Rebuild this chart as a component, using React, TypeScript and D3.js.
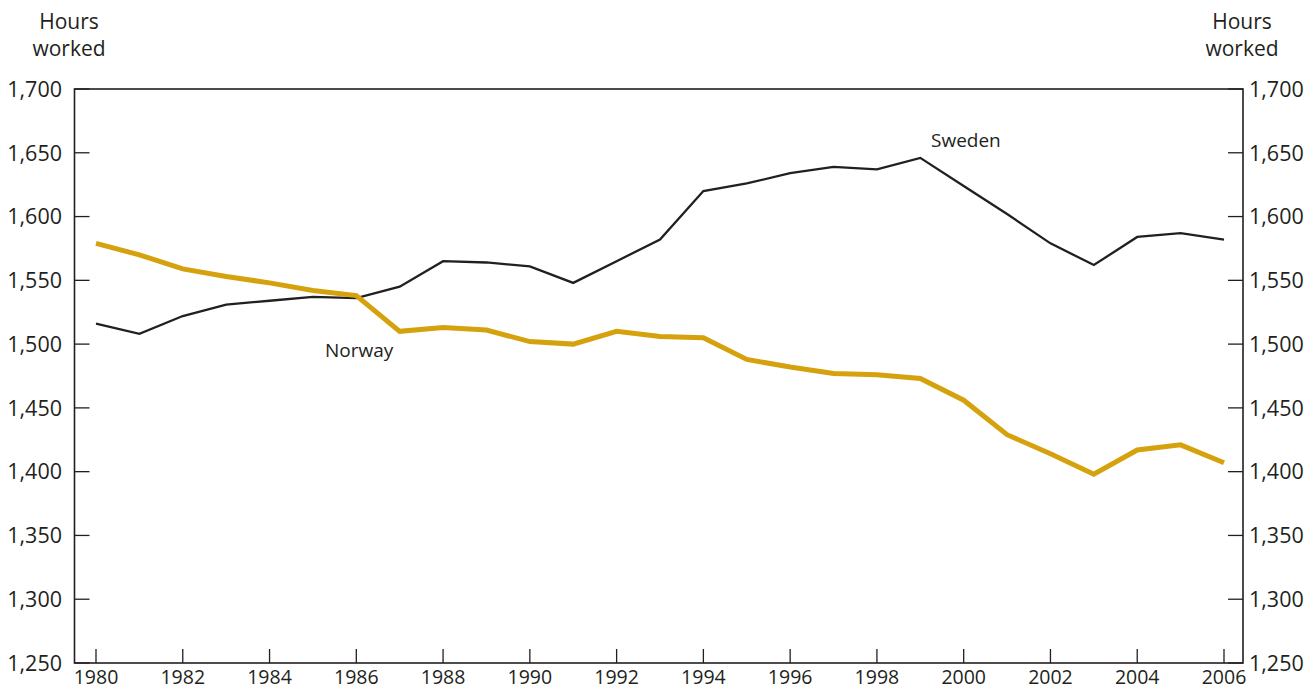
import React from "react";
import * as d3 from "d3";

const years = d3.range(1980, 2007);
const sweden = [1516, 1508, 1522, 1531, 1534, 1537, 1536, 1545, 1565, 1564, 1561, 1548, 1565, 1582, 1620, 1626, 1634, 1639, 1637, 1646, 1624, 1602, 1579, 1562, 1584, 1587, 1582];
const norway = [1579, 1570, 1559, 1553, 1548, 1542, 1538, 1510, 1513, 1511, 1502, 1500, 1510, 1506, 1505, 1488, 1482, 1477, 1476, 1473, 1456, 1429, 1414, 1398, 1417, 1421, 1407];
const yTicks = [1250, 1300, 1350, 1400, 1450, 1500, 1550, 1600, 1650, 1700];
const xTicks = d3.range(1980, 2007, 2);

const W = 1315, H = 690;
const L = 74.5, R = 1243, T = 89, B = 663;
const FONT = "'Open Sans', sans-serif";
const TXT = "#231f20";

export default function App() {
  const x = d3.scaleLinear().domain([1980, 2006]).range([96, 1224]);
  const y = d3.scaleLinear().domain([1250, 1700]).range([B, T]);
  const line = d3.line<number>().x((_, i) => x(years[i])).y((d) => y(d));
  const fmt = d3.format(",");
  return (
    <svg width={W} height={H} style={{ position: "absolute", left: 0, top: 0, background: "#fff" }} fontFamily={FONT}>
      <rect x={L} y={T} width={R - L} height={B - T} fill="none" stroke={TXT} strokeWidth={1.6} />
      {yTicks.map((t) => (
        <g key={t}>
          <line x1={L} x2={L + 15} y1={y(t)} y2={y(t)} stroke={TXT} strokeWidth={1.3} />
          <line x1={R - 15} x2={R} y1={y(t)} y2={y(t)} stroke={TXT} strokeWidth={1.3} />
          <text x={62} y={y(t)} dy="0.36em" textAnchor="end" fontSize={21.5} fill={TXT}>{fmt(t)}</text>
          <text x={1249} y={y(t)} dy="0.36em" textAnchor="start" fontSize={21.5} fill={TXT}>{fmt(t)}</text>
        </g>
      ))}
      {xTicks.map((t) => (
        <g key={t}>
          <line x1={x(t)} x2={x(t)} y1={B} y2={B - 14} stroke={TXT} strokeWidth={1.3} />
          <text x={x(t)} y={684} textAnchor="middle" fontSize={19.5} fill={TXT}>{t}</text>
        </g>
      ))}
      <text x={69} y={29} textAnchor="middle" fontSize={21} fill={TXT}>Hours</text>
      <text x={69} y={56} textAnchor="middle" fontSize={21} fill={TXT}>worked</text>
      <text x={1242} y={29} textAnchor="middle" fontSize={21} fill={TXT}>Hours</text>
      <text x={1242} y={56} textAnchor="middle" fontSize={21} fill={TXT}>worked</text>
      <path d={line(sweden) || ""} fill="none" stroke={TXT} strokeWidth={2.3} strokeLinejoin="miter" />
      <path d={line(norway) || ""} fill="none" stroke="#D5A20E" strokeWidth={5} strokeLinejoin="miter" />
      <text x={931} y={147} fontSize={19} fill={TXT}>Sweden</text>
      <text x={325} y={357} fontSize={19} fill={TXT}>Norway</text>
    </svg>
  );
}
